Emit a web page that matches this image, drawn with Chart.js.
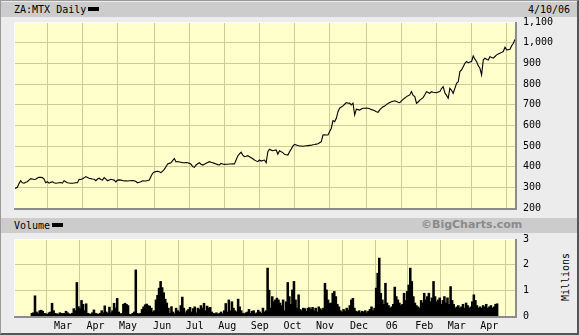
<!DOCTYPE html>
<html>
<head>
<meta charset="utf-8">
<script src="https://cdn.jsdelivr.net/npm/chart.js@4.4.1/dist/chart.umd.min.js"></script>
<style>
  body { margin: 0; width: 579px; height: 335px; overflow: hidden; background: #ececec; font-family: "DejaVu Sans Mono", monospace; font-size: 10px; }
  #frame { position: absolute; left: 0; top: 0; width: 576px; height: 332px; border: 1px solid #9a9a9a; border-right: 2px solid #555; border-bottom: 2px solid #555; }
  .bar { position: absolute; left: 1px; width: 576px; height: 15px; background: #cccccc; }
  .txt { position: absolute; line-height: 12px; white-space: nowrap; color: #000; }
  .swatch { display: inline-block; width: 11px; height: 4px; background: #000; vertical-align: middle; margin-left: 2px; margin-bottom: 2px; }
  canvas { position: absolute; }
</style>
</head>
<body>
<div id="frame"></div>
<div class="bar" style="top:2px"></div>
<div class="txt" style="left:14px;top:4px">ZA:MTX Daily<span class="swatch"></span></div>
<div class="txt" style="left:528px;top:4px">4/10/06</div>
<div class="bar" style="top:218px"></div>
<div class="txt" style="left:14px;top:220px">Volume<span class="swatch"></span></div>
<div class="txt" style="left:421px;top:219px;font-family:'DejaVu Sans',sans-serif;font-weight:bold;font-size:11px;color:#8a8a8a">©BigCharts.com</div>
<div class="txt" style="left:541px;top:271px;transform:rotate(-90deg);transform-origin:center;width:50px;text-align:center">Millions</div>
<canvas id="priceChart" style="left:14px;top:17px" width="565" height="196"></canvas>
<canvas id="volumeChart" style="left:14px;top:234px" width="565" height="101"></canvas>
<script>
// trading day index of each month start, and its label
const monthTicks = [20, 41, 62, 84, 105, 126, 147, 168, 189, 211, 232, 253, 274, 295];
const monthLabels = ['Mar', 'Apr', 'May', 'Jun', 'Jul', 'Aug', 'Sep', 'Oct', 'Nov', 'Dec', '06', 'Feb', 'Mar', 'Apr'];

// daily close, Feb 2005 - Apr 10 2006
const price = [
  295, 296, 300, 318, 332, 322, 320, 325, 327, 335,
  342, 340, 338, 339, 345, 349, 348, 347, 340, 322,
  327, 320, 324, 327, 322, 320, 321, 322, 323, 320,
  332, 327, 322, 321, 320, 320, 321, 322, 322, 339,
  338, 342, 346, 352, 348, 344, 342, 340, 339, 332,
  340, 344, 338, 335, 347, 340, 332, 336, 339, 337,
  335, 326, 335, 336, 335, 333, 331, 332, 331, 332,
  332, 333, 332, 328, 322, 325, 327, 332, 331, 331,
  333, 335, 352, 368, 374, 376, 378, 375, 371, 378,
  387, 400, 413, 416, 419, 429, 439, 423, 425, 423,
  421, 419, 419, 420, 419, 416, 412, 400, 397, 408,
  414, 419, 412, 408, 412, 416, 420, 424, 421, 419,
  416, 413, 410, 408, 416, 413, 411, 412, 412, 413,
  413, 414, 413, 432, 452, 462, 470, 456, 448, 450,
  453, 448, 443, 438, 432, 428, 424, 432, 427, 430,
  432, 419, 472, 484, 480, 477, 479, 481, 461, 477,
  472, 468, 460, 458, 456, 472, 485, 500, 508, 505,
  502, 500, 500, 499, 500, 501, 502, 503, 504, 506,
  507, 509, 511, 516, 521, 553, 554, 553, 553, 570,
  586, 623, 618, 634, 666, 683, 689, 694, 702, 710,
  707, 708, 699, 707, 650, 678, 676, 674, 679, 683,
  683, 684, 683, 680, 676, 674, 670, 666, 663, 675,
  683, 690, 694, 700, 706, 710, 714, 717, 719, 715,
  712, 710, 718, 726, 732, 739, 743, 747, 763, 745,
  739, 707, 713, 722, 728, 734, 748, 763, 759, 755,
  763, 760, 759, 758, 761, 763, 778, 787, 758, 745,
  731, 779, 770, 755, 779, 803, 811, 860, 868, 884,
  900, 909, 903, 906, 909, 936, 920, 909, 888, 876,
  844, 916, 925, 920, 916, 932, 928, 925, 933, 941,
  945, 949, 953, 957, 978, 965, 966, 968, 985, 997,
  1016
];

// daily volume, millions
const volume = [
  0.10, 0.12, 0.78, 0.15, 0.08, 0.20, 0.22, 0.18, 0.10, 0.08,
  0.06, 0.12, 0.15, 0.49, 0.20, 0.10, 0.08, 0.05, 0.12, 0.10,
  0.08, 0.10, 0.18, 0.12, 0.08, 0.06, 0.10, 0.28, 0.20, 1.30,
  0.36, 0.28, 0.60, 0.45, 0.20, 0.47, 0.10, 0.08, 0.06, 0.12,
  0.23, 0.10, 0.08, 0.06, 0.10, 0.20, 0.12, 0.39, 0.15, 0.10,
  0.34, 0.12, 0.20, 0.49, 0.30, 0.68, 0.15, 0.08, 0.10, 0.45,
  0.49, 0.45, 0.40, 0.06, 0.05, 0.10, 0.15, 1.79, 0.10, 0.06,
  0.10, 0.25, 0.35, 0.43, 0.46, 0.40, 0.38, 0.30, 0.15, 0.20,
  0.62, 0.80, 1.08, 1.34, 1.10, 0.90, 0.65, 0.50, 0.30, 0.10,
  0.36, 0.15, 0.08, 0.30, 0.20, 0.15, 0.40, 0.73, 0.30, 0.12,
  0.20, 0.25, 0.33, 0.15, 0.28, 0.35, 0.12, 0.30, 0.25, 0.40,
  0.30, 0.49, 0.20, 0.38, 0.30, 0.33, 0.15, 0.10, 0.08, 0.12,
  0.06, 0.10, 0.15, 0.08, 0.20, 0.48, 0.15, 0.62, 0.20, 0.55,
  0.30, 0.20, 0.15, 0.65, 0.35, 0.20, 0.10, 0.08, 0.12, 0.15,
  0.25, 0.10, 0.18, 0.20, 0.08, 0.12, 0.22, 0.15, 0.10, 0.30,
  0.15, 0.20, 1.86, 1.00, 0.30, 0.75, 0.55, 0.62, 0.69, 0.62,
  0.50, 0.40, 0.62, 0.20, 0.55, 1.30, 0.75, 0.45, 1.01, 1.34,
  0.62, 0.30, 0.82, 0.25, 0.20, 0.30, 0.28, 0.18, 0.30, 0.32,
  0.25, 0.33, 0.20, 0.30, 0.15, 0.35, 0.28, 0.22, 0.30, 1.27,
  1.01, 0.62, 0.48, 0.50, 0.88, 0.95, 0.75, 0.45, 0.35, 0.20,
  0.15, 0.25, 0.18, 0.30, 0.22, 0.40, 0.62, 0.68, 0.30, 0.18,
  0.15, 0.20, 0.12, 0.18, 0.15, 0.20, 0.12, 0.18, 0.25, 0.35,
  0.20, 0.30, 1.08, 1.66, 2.25, 0.88, 0.62, 0.45, 1.27, 0.50,
  0.40, 0.30, 0.35, 0.45, 1.12, 0.75, 0.62, 0.50, 0.40, 0.45,
  0.88, 0.60, 0.95, 1.20, 1.86, 1.34, 0.75, 0.50, 0.40, 0.35,
  0.30, 0.60, 0.50, 0.88, 0.62, 0.75, 0.88, 0.55, 0.70, 1.34,
  0.75, 0.55, 0.62, 0.70, 0.45, 0.60, 0.75, 0.50, 0.70, 0.45,
  1.14, 0.60, 0.45, 0.30, 0.35, 0.40, 0.30, 0.35, 0.45, 0.30,
  0.50, 0.40, 0.30, 0.35, 0.55, 0.82, 0.60, 0.40, 0.30, 0.35,
  0.30, 0.40, 0.35, 0.45, 0.30, 0.35, 0.40, 0.30, 0.35, 0.45,
  0.47
];

const gridColor = '#cccc99';
const font = { family: 'DejaVu Sans Mono', size: 10 };
Chart.defaults.color = '#000';
Chart.defaults.animation = false;

// yellow plot area with a sunken border
const plotFrame = {
  id: 'plotFrame',
  beforeDraw(chart) {
    const { ctx, chartArea: a } = chart;
    ctx.save();
    ctx.fillStyle = '#ffffcc';
    ctx.fillRect(a.left, a.top, a.right - a.left, a.bottom - a.top);
    ctx.restore();
  },
  afterDraw(chart) {
    const { ctx, chartArea: a } = chart;
    ctx.save();
    ctx.lineWidth = 1;
    ctx.strokeStyle = '#ffffff';
    ctx.beginPath();
    ctx.moveTo(a.left + 0.5, a.bottom);
    ctx.lineTo(a.left + 0.5, a.top + 0.5);
    ctx.lineTo(a.right, a.top + 0.5);
    ctx.stroke();
    ctx.lineWidth = 2;
    ctx.strokeStyle = '#8c8c8c';
    ctx.beginPath();
    ctx.moveTo(a.left, a.bottom + 1);
    ctx.lineTo(a.right + 1, a.bottom + 1);
    ctx.lineTo(a.right + 1, a.top);
    ctx.stroke();
    ctx.restore();
  }
};

// no extra room for half-labels at the ends of the axes
function fixedBox(size, horizontal) {
  return s => {
    if (horizontal) s.height = size; else s.width = size;
    s.paddingTop = 0; s.paddingBottom = 0; s.paddingLeft = 0; s.paddingRight = 0;
  };
}

function monthAxis(showLabels) {
  return {
    type: 'linear',
    min: 0,
    max: 300,
    afterBuildTicks: s => { s.ticks = monthTicks.map(v => ({ value: v })); },
    afterFit: fixedBox(showLabels ? 19 : 0, true),
    grid: { color: gridColor, drawTicks: false },
    border: { display: false },
    ticks: {
      display: showLabels,
      font: font,
      padding: 4,
      maxRotation: 0,
      callback: v => monthLabels[monthTicks.indexOf(v)]
    }
  };
}

new Chart(document.getElementById('priceChart'), {
  type: 'line',
  data: {
    datasets: [{
      data: price.map((v, i) => ({ x: i, y: v })),
      borderColor: '#000',
      borderWidth: 1.1,
      pointRadius: 0,
      tension: 0
    }]
  },
  options: {
    responsive: false,
    layout: { padding: { top: 5, bottom: 5, left: 0, right: 0 } },
    plugins: { legend: { display: false }, tooltip: { enabled: false } },
    scales: {
      x: monthAxis(false),
      y: {
        position: 'right',
        min: 200,
        max: 1100,
        afterFit: fixedBox(64, false),
        grid: { color: gridColor, drawTicks: false },
        border: { display: false },
        ticks: { stepSize: 100, font: font, padding: 8, callback: v => v.toLocaleString('en-US') }
      }
    }
  },
  plugins: [plotFrame]
});

new Chart(document.getElementById('volumeChart'), {
  type: 'bar',
  data: {
    datasets: [{
      data: volume.map((v, i) => ({ x: i, y: v })),
      backgroundColor: '#000',
      borderWidth: 0,
      barPercentage: 1,
      categoryPercentage: 1,
      inflateAmount: 0.5
    }]
  },
  options: {
    responsive: false,
    layout: { padding: { top: 5, bottom: 0, left: 0, right: 0 } },
    plugins: { legend: { display: false }, tooltip: { enabled: false } },
    scales: {
      x: monthAxis(true),
      y: {
        position: 'right',
        min: 0,
        max: 3,
        afterFit: fixedBox(64, false),
        grid: { color: gridColor, drawTicks: false },
        border: { display: false },
        ticks: { stepSize: 1, font: font, padding: 8 }
      }
    }
  },
  plugins: [plotFrame]
});
</script>
</body>
</html>
